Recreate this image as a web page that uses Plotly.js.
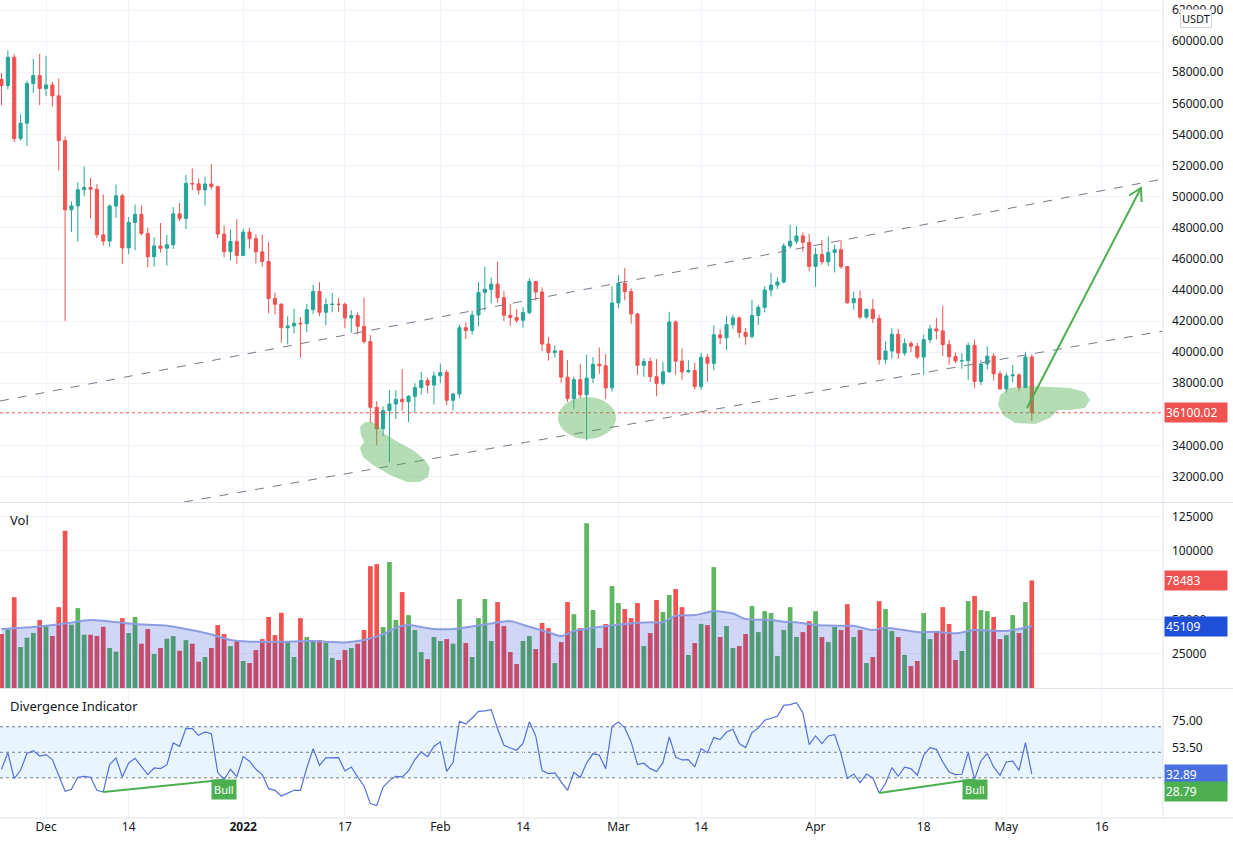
<!DOCTYPE html>
<html>
<head>
<meta charset="utf-8">
<script src="https://cdn.plot.ly/plotly-3.0.1.min.js"></script>
<style>
  html, body { margin: 0; padding: 0; background: #fff; }
  #chart { width: 1233px; height: 845px; }
</style>
</head>
<body>
<div id="chart"></div>
<script>
// BTC/USDT daily, 2021-11-24 .. 2022-05-05
const START_DAY = '2021-11-24';

const open = [
  57540, 57140, 58960, 53730, 54720, 57270, 57780,
  56950, 57180, 56480, 53600, 49150, 49400, 50440, 50590, 50470, 47540, 47140, 49390, 50050, 46700, 48340, 48860,
  47630, 46130, 46830, 46680, 46910, 48890, 48590, 50840, 50820, 50430, 50810, 50640, 47590, 46460, 47120,
  46220, 47720, 47290, 46450, 45830, 43450, 43080, 41570, 41680, 41860, 41820, 42730, 43900, 42560, 43060, 43080,
  43070, 42200, 42350, 41660, 40680, 36450, 35070, 36240, 36660, 36960, 36810, 37160, 37720, 38170, 37880,
  38470, 38690, 36900, 37310, 41570, 41380, 42380, 43840, 44040, 44370, 43500, 42370, 42220, 42050, 42540, 44540,
  43870, 40520, 39970, 40080, 38390, 37010, 38230, 37250, 38330, 39220, 39120, 37700,
  43160, 44420, 43890, 42450, 39150, 39400, 38420, 37990, 38730, 41940, 39420, 38730, 38810, 37780, 39670, 39280,
  41110, 40920, 41760, 42200, 41260, 41000, 42360, 42880, 43990, 44310, 44510, 46830, 47130, 47470, 47060,
  45510, 46280, 45810, 46410, 46580, 45500, 43170, 43440, 42250, 42750, 42160, 39530, 40070, 41150, 39940,
  40550, 40380, 39680, 40800, 41490, 41360, 40480, 39710, 39440, 39450, 40430, 38110, 39240, 39740, 38600,
  37630, 38470, 38530, 37730, 39690
];
const high = [
  57950, 59400, 59150, 55280, 57450, 58870, 59180,
  59050, 57380, 57600, 53860, 49700, 50930, 51940, 51200, 50800, 50130, 49490, 50780, 50190, 48700, 49500, 49440,
  48000, 47390, 48300, 47540, 49330, 49580, 51380, 51810, 51160, 51280, 52090, 50700, 48140, 47900, 48550,
  47950, 47990, 47570, 47560, 47070, 43820, 43150, 42300, 42790, 42250, 43100, 44320, 44500, 43450, 43800, 43480,
  43180, 42690, 42560, 43510, 41100, 36840, 36500, 37550, 37550, 38920, 37230, 38000, 38720, 38360, 38740,
  39270, 38860, 37390, 41770, 41910, 42660, 44500, 45490, 44800, 45820, 43920, 43080, 42760, 42880, 44750, 44550,
  44160, 40960, 40440, 40120, 39490, 38430, 39250, 39840, 39680, 40300, 39860, 44230,
  44950, 45400, 44100, 42530, 39610, 39640, 39550, 39360, 42590, 42040, 40240, 39490, 39310, 39950, 39890, 41720,
  41480, 42330, 42400, 42300, 41540, 43360, 43030, 44220, 45090, 44790, 47000, 48190, 48100, 47700, 47600,
  46720, 47210, 47440, 46890, 47200, 45510, 43900, 43970, 42800, 43410, 42410, 40700, 41560, 41500, 40870,
  40710, 40600, 41120, 41760, 42200, 42980, 40800, 39980, 39940, 40620, 40800, 39470, 40370, 39930, 38800,
  38680, 39170, 38650, 40020, 39850
];
const low = [
  55880, 56900, 53500, 53610, 53260, 56670, 55880,
  56460, 55780, 51680, 42000, 47730, 47100, 50040, 48600, 47320, 46850, 46750, 48640, 45670, 46290, 46550, 47510,
  45460, 45500, 46410, 45560, 46630, 48420, 47920, 50420, 50140, 49410, 50450, 47310, 46100, 45900, 45680,
  46210, 46650, 45700, 45500, 42500, 42430, 40610, 40500, 41200, 39650, 41270, 42450, 42310, 41730, 42560, 42580,
  41540, 41250, 41140, 40550, 35440, 34010, 34600, 32920, 35700, 36230, 35510, 36160, 37270, 37350, 36630,
  38000, 36590, 36250, 37030, 40840, 41120, 41650, 42670, 43120, 43170, 42000, 41690, 41870, 41570, 42430, 43310,
  40070, 39450, 39640, 38000, 36800, 36350, 37040, 34320, 38010, 38600, 37000, 37450,
  42810, 43330, 41830, 38550, 38410, 38090, 37160, 37870, 38660, 38540, 38220, 38660, 37580, 37560, 38100, 38830,
  40500, 40140, 41500, 40910, 40470, 40880, 41750, 42560, 43580, 44070, 44420, 46660, 46950, 46450, 45200,
  44200, 45620, 45530, 45120, 45350, 43120, 42730, 42110, 42130, 41870, 39200, 39250, 39590, 39550, 39770,
  39990, 39550, 38540, 40570, 40820, 39750, 39180, 39290, 38930, 38200, 37700, 37880, 38880, 38180, 37580,
  37390, 38050, 37500, 37670, 35570
];
const close = [
  57140, 58960, 53730, 54720, 57270, 57780, 56950,
  57180, 56480, 53600, 49150, 49400, 50440, 50590, 50470, 47540, 47140, 49390, 50050, 46700, 48340, 48860, 47630,
  46130, 46830, 46680, 46910, 48890, 48590, 50840, 50820, 50430, 50810, 50640, 47590, 46460, 47120, 46220,
  47720, 47290, 46450, 45830, 43450, 43080, 41570, 41680, 41860, 41820, 42730, 43900, 42560, 43060, 43080, 43070,
  42200, 42350, 41660, 40680, 36450, 35070, 36240, 36660, 36960, 36810, 37160, 37720, 38170, 37880, 38470,
  38690, 36900, 37310, 41570, 41380, 42380, 43840, 44040, 44370, 43500, 42370, 42220, 42050, 42540, 44540, 43870,
  40520, 39970, 40080, 38390, 37010, 38230, 37250, 38330, 39220, 39120, 37700, 43160,
  44420, 43890, 42450, 39150, 39400, 38420, 37990, 38730, 41940, 39420, 38730, 38810, 37780, 39670, 39280, 41110,
  40920, 41760, 42200, 41260, 41000, 42360, 42880, 43990, 44310, 44510, 46830, 47130, 47470, 47060, 45510,
  46280, 45810, 46410, 46580, 45500, 43170, 43440, 42250, 42750, 42160, 39530, 40070, 41150, 39940, 40550,
  40380, 39680, 40800, 41490, 41360, 40480, 39710, 39440, 39450, 40430, 38110, 39240, 39740, 38600, 37630,
  38470, 38530, 37730, 39690, 36100.02
];

// daily volume
const volume = [
  39400, 42800, 66300, 29900, 36700, 40100, 49600,
  45400, 37900, 59000, 114700, 46200, 58300, 38900, 38900, 37900, 44700, 29200, 26500, 51000, 40100, 51800, 32300,
  43000, 24800, 29200, 36000, 37900, 27200, 35000, 32300, 19200, 22600, 29200, 45900, 39400, 30600, 35000,
  19700, 18200, 27700, 35700, 51800, 38600, 54900, 33300, 22600, 51000, 37200, 34300, 35000, 33000, 21900, 20400,
  27700, 29200, 32300, 42300, 88900, 90400, 44500, 91900, 49600, 70000, 53200, 42300, 26200, 21100, 37200,
  34300, 35700, 32300, 64900, 32800, 22600, 51000, 64900, 34300, 62700, 45200, 26200, 17500, 34300, 37900, 28400,
  47400, 43700, 18200, 33500, 62700, 53900, 43700, 120300, 56900, 29200, 46700, 74400,
  62000, 57600, 51000, 62000, 30600, 40100, 64200, 55400, 67800, 72200, 59000, 24100, 32800, 46700, 45900, 88200,
  37200, 45200, 29200, 30600, 39400, 59800, 40800, 56100, 54700, 23300, 42300, 59000, 37200, 40800, 48800,
  56100, 37200, 33500, 44500, 42300, 61200, 37200, 42300, 18200, 22600, 63400, 57600, 41600, 37200, 24100,
  16000, 19700, 54700, 35700, 40800, 59000, 46700, 20400, 27000, 63400, 67100, 56900, 56100, 51800, 35700,
  38600, 53200, 40100, 62700, 78483
];

// volume moving average, read at sampled days
const volMaDates = [
  '2021-11-24', '2021-11-29', '2021-12-04', '2021-12-08', '2021-12-10', '2021-12-15', '2021-12-20', '2021-12-23',
  '2021-12-27', '2021-12-30', '2022-01-02', '2022-01-07', '2022-01-12', '2022-01-17', '2022-01-20', '2022-01-23',
  '2022-01-24', '2022-01-25', '2022-01-27', '2022-01-31', '2022-02-04', '2022-02-08', '2022-02-12', '2022-02-15',
  '2022-02-18', '2022-02-20', '2022-02-22', '2022-02-26', '2022-03-02', '2022-03-06', '2022-03-08', '2022-03-10',
  '2022-03-13', '2022-03-16', '2022-03-19', '2022-03-21', '2022-03-25', '2022-03-27', '2022-03-29', '2022-04-01',
  '2022-04-05', '2022-04-07', '2022-04-10', '2022-04-12', '2022-04-17', '2022-04-20', '2022-04-23', '2022-04-26',
  '2022-05-01', '2022-05-05'
];
const volMaValues = [
  43000, 44500, 47100, 49600, 49100, 46700, 45400, 43000,
  39100, 35000, 33800, 33800, 34300, 33300, 35000, 39100,
  41600, 44000, 45900, 43000, 43500, 46400, 48800, 44700,
  40600, 37900, 41600, 44500, 46700, 47900, 47900, 52700,
  53200, 56100, 54400, 50300, 49600, 48400, 47900, 45900,
  45400, 45400, 42300, 44000, 40800, 41100, 39900, 42300,
  41600, 45109
];

// divergence indicator (RSI-like oscillator)
const rsi = [
  36.7, 49.7, 29.4, 35.9, 49.0, 51.3, 47.1,
  48.2, 44.3, 31.2, 19.5, 21.0, 30.4, 31.2, 30.4, 20.2, 18.9, 40.3, 45.6, 30.7, 41.6, 45.3, 38.8,
  32.5, 37.7, 37.2, 40.1, 57.3, 54.7, 68.8, 68.5, 63.3, 65.9, 64.6, 34.1, 28.5, 36.7, 30.9,
  46.6, 43.0, 36.7, 32.5, 21.5, 20.2, 15.8, 17.9, 20.2, 20.2, 37.7, 52.9, 39.8, 45.6, 45.8, 45.8,
  35.4, 38.5, 30.7, 23.6, 9.8, 8.2, 22.8, 27.8, 31.2, 30.7, 35.4, 44.3, 50.3, 46.6, 54.7,
  58.1, 35.1, 41.9, 74.3, 72.2, 76.9, 82.1, 82.4, 83.4, 68.5, 55.5, 53.4, 51.6, 57.0, 74.0, 62.8,
  35.6, 33.3, 33.8, 26.8, 20.2, 34.3, 30.2, 41.6, 49.0, 47.7, 37.2, 70.4,
  73.8, 69.1, 58.1, 40.3, 41.4, 37.2, 34.9, 41.9, 62.0, 46.3, 44.0, 44.3, 38.5, 52.9, 49.7, 61.5,
  59.9, 65.9, 68.0, 56.8, 53.7, 65.4, 69.1, 75.1, 76.9, 78.2, 86.8, 87.3, 88.9, 81.1, 56.0,
  62.8, 56.8, 62.8, 63.8, 49.0, 29.4, 33.0, 26.2, 33.0, 29.9, 18.1, 25.5, 38.0, 31.2, 38.3,
  37.2, 32.0, 47.7, 53.7, 52.3, 42.4, 34.6, 32.5, 32.8, 49.7, 28.79, 43.2, 49.0, 38.5, 32.0,
  42.4, 43.0, 35.9, 57.6, 32.89
];

// bullish divergence segments on the oscillator
const bullFromDates = ['2021-12-10', '2022-04-11'];
const bullFromValues = [18.9, 18.1];
const bullToDates = ['2021-12-29', '2022-04-26'];
const bullToValues = [28.5, 28.79];

const priceTicks = [32000, 34000, 38000, 40000, 42000, 44000, 46000, 48000, 50000, 52000, 54000,
  56000, 58000, 60000, 62000];
const volTicks = [25000, 50000, 100000, 125000];
const rsiTicks = [75, 53.5];

const dateTickVals = ['2021-12-01', '2021-12-14', '2022-01-01', '2022-01-17', '2022-02-01', '2022-02-14',
  '2022-03-01', '2022-03-14', '2022-04-01', '2022-04-18', '2022-05-01', '2022-05-16'];
const dateTickText = ['Dec', '14', '<b>2022</b>', '17', 'Feb', '14', 'Mar', '14', 'Apr', '18', 'May', '16'];

const UP = '#26a69a';
const DOWN = '#ef5350';
const VOL_UP = '#5db65f';
const VOL_DOWN = '#f05350';
const GRID = '#f0f3fa';
const TEXT = '#131722';
const FONT = '"Noto Sans", "Open Sans", sans-serif';

function dayList(start, n) {
  const out = [];
  const t0 = Date.parse(start + 'T00:00:00Z');
  for (let i = 0; i < n; i++) {
    out.push(new Date(t0 + i * 86400000).toISOString().slice(0, 10));
  }
  return out;
}
const days = dayList(START_DAY, close.length);
const lastClose = close[close.length - 1];
const lastVol = volume[volume.length - 1];
const lastMa = volMaValues[volMaValues.length - 1];
const lastRsi = rsi[rsi.length - 1];

const candles = {
  type: 'candlestick', x: days, open: open, high: high, low: low, close: close,
  xaxis: 'x', yaxis: 'y', whiskerwidth: 0,
  increasing: { line: { color: UP, width: 1 }, fillcolor: UP },
  decreasing: { line: { color: DOWN, width: 1 }, fillcolor: DOWN }
};
const volBars = {
  type: 'bar', x: days, y: volume, xaxis: 'x', yaxis: 'y2',
  marker: { color: close.map((c, i) => c >= open[i] ? VOL_UP : VOL_DOWN), line: { width: 0 } }
};
const volMa = {
  type: 'scatter', mode: 'lines', x: volMaDates, y: volMaValues, xaxis: 'x', yaxis: 'y2',
  line: { color: '#8c9de2', width: 2, shape: 'spline', smoothing: 0.6 },
  fill: 'tozeroy', fillcolor: 'rgba(20,50,210,0.2)'
};
const rsiLine = {
  type: 'scatter', mode: 'lines', x: days, y: rsi, xaxis: 'x', yaxis: 'y3',
  line: { color: '#5470dc', width: 1.2 }
};
const bullLines = bullFromDates.map((d, i) => ({
  type: 'scatter', mode: 'lines', x: [d, bullToDates[i]], y: [bullFromValues[i], bullToValues[i]],
  xaxis: 'x', yaxis: 'y3', line: { color: '#4caf50', width: 2 }
}));

// hand-drawn highlight blobs, outlines in pixels around an anchor
function blob(xDate, yPrice, pts) {
  const path = 'M' + pts.map(p => p[0] + ',' + (-p[1])).join(' L') + ' Z';
  return {
    type: 'path', xref: 'x', yref: 'y', xsizemode: 'pixel', ysizemode: 'pixel',
    xanchor: xDate, yanchor: yPrice, path: path,
    fillcolor: 'rgba(76,175,80,0.42)', line: { width: 0 }, layer: 'above'
  };
}

const shapes = [
  // oscillator band and levels
  { type: 'rect', xref: 'paper', yref: 'y3', x0: 0, x1: 1, y0: 30, y1: 70,
    fillcolor: 'rgba(33,150,243,0.1)', line: { width: 0 }, layer: 'below' },
  ...[70, 50, 30].map(v => ({ type: 'line', xref: 'paper', yref: 'y3', x0: 0, x1: 1, y0: v, y1: v,
    line: { color: '#787b86', width: 1, dash: 'dot' }, layer: 'below' })),
  // last price line
  { type: 'line', xref: 'paper', yref: 'y', x0: 0, x1: 1, y0: lastClose, y1: lastClose,
    line: { color: DOWN, width: 1, dash: 'dot' } },
  // channel lines
  { type: 'line', xref: 'x', yref: 'y', x0: '2021-11-23 18:20', y0: 36855, x1: '2022-05-25 15:07', y1: 51132,
    line: { color: '#787b86', width: 1, dash: 'dash' } },
  { type: 'line', xref: 'x', yref: 'y', x0: '2021-12-22 17:00', y0: 30360, x1: '2022-05-25 15:07', y1: 41357,
    line: { color: '#787b86', width: 1, dash: 'dash' } },
  // highlights
  blob('2022-01-24 17:00', 33383, [[-34, -28], [-29, -33], [-22, -33], [-14, -28], [-11, -22], [4, -13], [19, -5],
    [31, 5], [36, 13], [34, 22], [26, 27], [13, 27], [-4, 20], [-21, 10], [-31, 2], [-34, -7], [-30, -13], [-33, -20]]),
  { type: 'circle', xref: 'x', yref: 'y', xsizemode: 'pixel', ysizemode: 'pixel',
    xanchor: '2022-02-24 01:30', yanchor: 35762, x0: -29, x1: 29, y0: -21, y1: 21,
    fillcolor: 'rgba(76,175,80,0.42)', line: { width: 0 }, layer: 'above' },
  blob('2022-05-06 07:00', 36598, [[-40, -10], [-30, -17], [-10, -19], [10, -18], [30, -17], [45, -13], [50, -5],
    [45, 3], [30, 5], [18, 5], [10, 13], [-5, 19], [-25, 18], [-37, 10], [-42, 0]]),
  // projection arrow
  { type: 'line', xref: 'x', yref: 'y', x0: '2022-05-04 05:45', y0: 36405, x1: '2022-05-22 04:00', y1: 50553,
    line: { color: '#4caf50', width: 2 }, layer: 'above' },
  { type: 'path', xref: 'x', yref: 'y', xsizemode: 'pixel', ysizemode: 'pixel',
    xanchor: '2022-05-22 04:00', yanchor: 50553, path: 'M-11.8,-7.5 L0,0 L0.6,-14',
    line: { color: '#4caf50', width: 2 }, layer: 'above' },
  // pane separators and scale borders
  { type: 'line', xref: 'paper', yref: 'paper', x0: 0, x1: 1.061, y0: 0.3857, y1: 0.3857, line: { color: '#e0e3eb', width: 1 } },
  { type: 'line', xref: 'paper', yref: 'paper', x0: 0, x1: 1.061, y0: 0.1583, y1: 0.1583, line: { color: '#e0e3eb', width: 1 } },
  { type: 'line', xref: 'paper', yref: 'paper', x0: 1, x1: 1, y0: 0, y1: 1, line: { color: '#e0e3eb', width: 1 } },
  { type: 'line', xref: 'paper', yref: 'paper', x0: 0, x1: 1.061, y0: 0, y1: 0, line: { color: '#e0e3eb', width: 1 } }
];

function scaleLabel(text, yref, y, bg, yshift) {
  return {
    xref: 'paper', x: 1, xanchor: 'left', xshift: 1, yref: yref, y: y, yanchor: 'middle', yshift: yshift || 0,
    text: text, showarrow: false, bgcolor: bg, borderpad: 1, width: 60, align: 'left',
    font: { color: '#ffffff', size: 12, family: FONT }
  };
}

const annotations = [
  { xref: 'paper', yref: 'paper', x: 0.0069, y: 0.3643, xanchor: 'left', yanchor: 'middle', text: 'Vol',
    showarrow: false, font: { size: 13, color: TEXT, family: FONT } },
  { xref: 'paper', yref: 'paper', x: 0.0069, y: 0.1369, xanchor: 'left', yanchor: 'middle', text: 'Divergence Indicator',
    showarrow: false, font: { size: 13, color: TEXT, family: FONT } },
  { xref: 'paper', yref: 'paper', x: 1.0146, y: 0.989, xanchor: 'left', yanchor: 'top', text: 'USDT',
    showarrow: false, bgcolor: '#ffffff', bordercolor: '#d1d4dc', borderwidth: 1, borderpad: 1,
    font: { size: 11, color: TEXT, family: FONT } },
  scaleLabel(lastClose.toFixed(2), 'y', lastClose, DOWN),
  scaleLabel(String(lastVol), 'y2', lastVol, DOWN),
  scaleLabel(String(lastMa), 'y2', lastMa, '#1e4fd6'),
  scaleLabel(lastRsi.toFixed(2), 'y3', lastRsi, '#4a6fe0'),
  scaleLabel(bullToValues[1].toFixed(2), 'y3', bullToValues[1], '#4caf50', -12),
  ...bullToDates.map(d => ({
    xref: 'x', yref: 'y3', x: d, y: 21, text: 'Bull', showarrow: false,
    bgcolor: '#4caf50', borderpad: 2, font: { color: '#ffffff', size: 11, family: FONT }
  }))
];

const layout = {
  width: 1233, height: 845,
  margin: { l: 0, r: 70, t: 0, b: 27, pad: 0 },
  paper_bgcolor: '#ffffff', plot_bgcolor: '#ffffff',
  showlegend: false, hovermode: false, bargap: 0.26,
  font: { family: FONT, size: 12, color: TEXT },
  xaxis: {
    type: 'date', range: ['2021-11-23 18:20', '2022-05-25 15:07'], anchor: 'y3',
    tickmode: 'array', tickvals: dateTickVals, ticktext: dateTickText,
    showgrid: true, gridcolor: GRID, zeroline: false, ticks: '',
    rangeslider: { visible: false }, fixedrange: true,
    tickfont: { size: 12, color: TEXT }
  },
  yaxis: {
    domain: [0.3863, 1], range: [30360, 62643], side: 'right', anchor: 'x',
    tickmode: 'array', tickvals: priceTicks, ticktext: priceTicks.map(v => v.toFixed(2)),
    showgrid: true, gridcolor: GRID, zeroline: false, ticks: '', ticklabelstandoff: 8,
    fixedrange: true, tickfont: { size: 12, color: TEXT }
  },
  yaxis2: {
    domain: [0.1589, 0.3851], range: [0, 135000], side: 'right', anchor: 'x',
    tickmode: 'array', tickvals: volTicks, ticktext: volTicks.map(String),
    showgrid: true, gridcolor: GRID, zeroline: false, ticks: '', ticklabelstandoff: 8,
    fixedrange: true, tickfont: { size: 12, color: TEXT }
  },
  yaxis3: {
    domain: [0, 0.1577], range: [-1.5, 99.6], side: 'right', anchor: 'x',
    tickmode: 'array', tickvals: rsiTicks, ticktext: rsiTicks.map(v => v.toFixed(2)),
    showgrid: false, zeroline: false, ticks: '', ticklabelstandoff: 8,
    fixedrange: true, tickfont: { size: 12, color: TEXT }
  },
  shapes: shapes,
  annotations: annotations
};

Plotly.newPlot('chart', [candles, volBars, volMa, rsiLine, ...bullLines], layout, { displayModeBar: false, staticPlot: true });
</script>
</body>
</html>
